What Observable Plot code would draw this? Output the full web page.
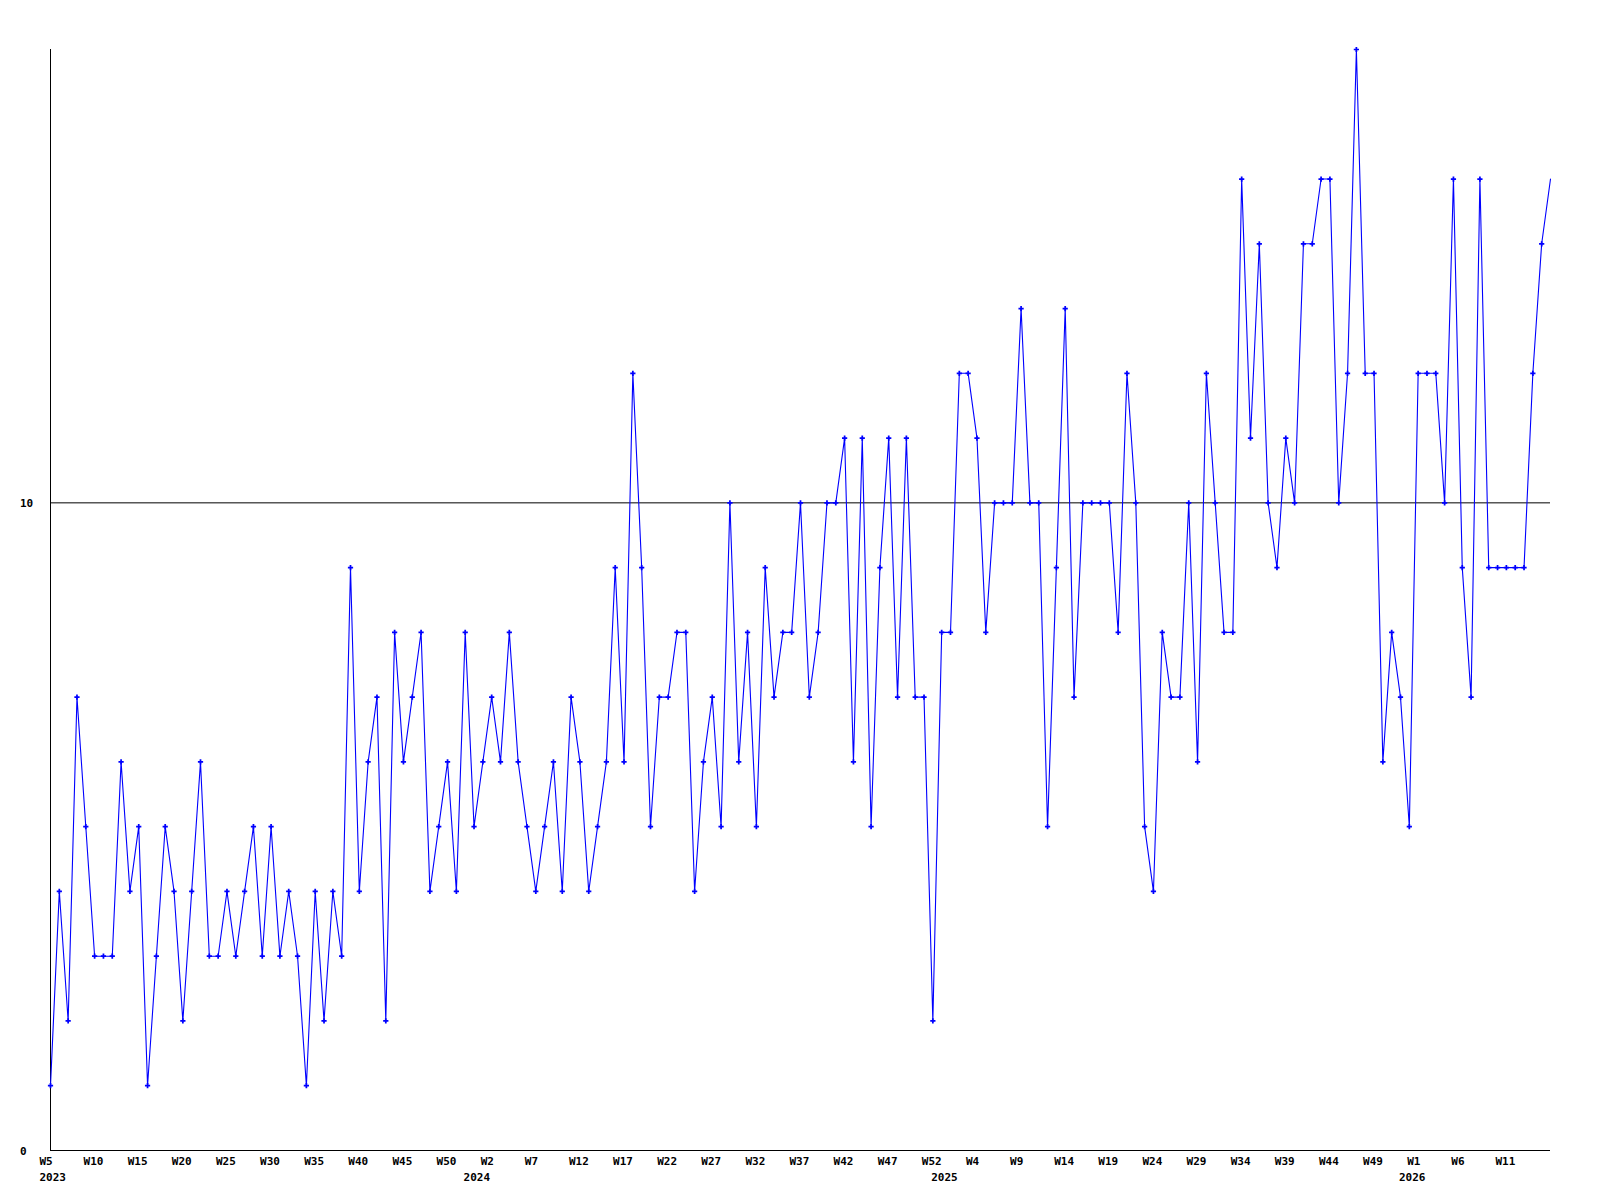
<!DOCTYPE html>
<html>
<head>
<meta charset="utf-8">
<script src="https://cdn.jsdelivr.net/npm/d3@7"></script>
<script src="https://cdn.jsdelivr.net/npm/@observablehq/plot@0.6"></script>
<style>
  html, body { margin: 0; padding: 0; background: #ffffff; }
  #chart svg { display: block; }
</style>
</head>
<body>
<div id="chart"></div>
<script>
// Weekly values, one per week starting 2023 W5
const values = [
  1,4,2,7,5,3,3,3,6,4,
  5,1,3,5,4,2,4,6,3,3,
  4,3,4,5,3,5,3,4,3,1,
  4,2,4,3,9,4,6,7,2,8,
  6,7,8,4,5,6,4,8,5,6,
  7,6,8,6,5,4,5,6,4,7,
  6,4,5,6,9,6,12,9,5,7,
  7,8,8,4,6,7,5,10,6,8,
  5,9,7,8,8,10,7,8,10,10,
  11,6,11,5,9,11,7,11,7,7,
  2,8,8,12,12,11,8,10,10,10,
  13,10,10,5,9,13,7,10,10,10,
  10,8,12,10,5,4,8,7,7,10,
  6,12,10,8,8,15,11,14,10,9,
  11,10,14,14,15,15,10,12,17,12,
  12,6,8,7,5,12,12,12,10,15,
  9,7,15,9,9,9,9,9,12,14,
  15
];

// x tick labels, one every 5 weeks
const tickLabels = [
  "W5","W10","W15","W20","W25","W30","W35","W40","W45","W50",
  "W2","W7","W12","W17","W22","W27","W32","W37","W42","W47","W52",
  "W4","W9","W14","W19","W24","W29","W34","W39","W44","W49",
  "W1","W6","W11"
];
const tickStep = 5;

// year labels and the tick index at which each year's labels begin
const yearLabels = ["2023","2024","2025","2026"];
const yearFirstTick = [0, 10, 21, 31];

const yTicks = [0, 10];
const yGrid = [10];

const data = values.map((v, i) => ({i, v}));
const ticks = tickLabels.map((t, k) => ({x: k * tickStep, t}));
const years = yearLabels.map((y, j) => {
  const k = yearFirstTick[j];
  const wk = +tickLabels[k].slice(1);
  return {x: k * tickStep - (wk - 1), first: k * tickStep, y};
});

const font = "'DejaVu Sans Mono', monospace";

const chart = Plot.plot({
  width: 1600,
  height: 1200,
  marginLeft: 50,
  marginRight: 50,
  marginTop: 49,
  marginBottom: 50,
  style: {fontFamily: font, fontSize: "11px", fontWeight: "bold", background: "#ffffff", color: "#000"},
  x: {type: "linear", domain: [0, values.length - 1], axis: null},
  y: {type: "linear", domain: [0, 17], axis: null},
  marks: [
    Plot.ruleY(yGrid, {stroke: "#000", strokeWidth: 1}),
    Plot.ruleY([0], {stroke: "#000", strokeWidth: 1}),
    Plot.ruleX([0], {stroke: "#000", strokeWidth: 1}),
    Plot.text(yTicks, {y: d => d, text: d => String(d), frameAnchor: "left", textAnchor: "start", dx: -30.5, dy: 0.5, fill: "#000"}),
    Plot.text(ticks, {x: "x", text: "t", frameAnchor: "bottom", textAnchor: "start", dx: -11, dy: 14, fill: "#000"}),
    Plot.text(years.slice(0, 1), {x: "first", text: "y", frameAnchor: "bottom", textAnchor: "start", dx: -11, dy: 30, fill: "#000"}),
    Plot.text(years.slice(1), {x: "x", text: "y", frameAnchor: "bottom", textAnchor: "middle", dx: -6, dy: 30, fill: "#000"}),
    Plot.line(data, {x: "i", y: "v", stroke: "#0000ff", strokeWidth: 1.1, curve: "linear"}),
    Plot.dot(data, {x: "i", y: "v", symbol: "cross", r: 2.2, fill: "#0000ff", stroke: "none", filter: d => d.i < values.length - 1})
  ]
});

document.getElementById("chart").appendChild(chart);
</script>
</body>
</html>
